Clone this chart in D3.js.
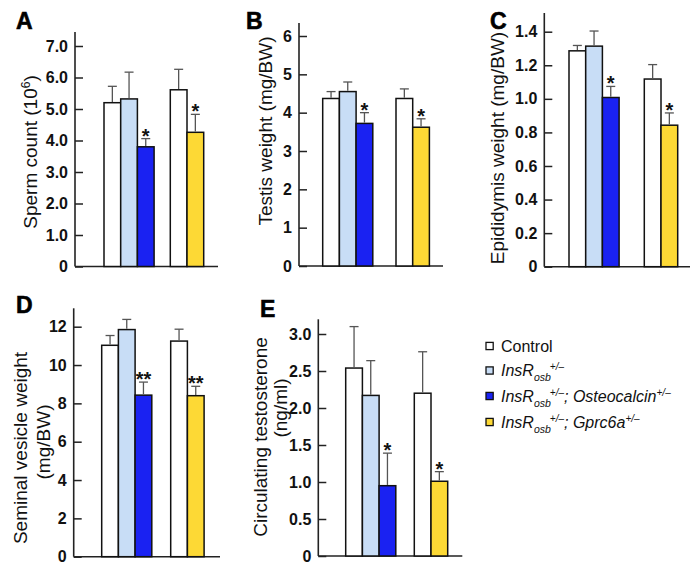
<!DOCTYPE html>
<html>
<head>
<meta charset="utf-8">
<script src="https://cdn.jsdelivr.net/npm/d3@7/dist/d3.min.js"></script>
<style>
  html, body { margin: 0; padding: 0; background: #fff; }
  svg { display: block; font-family: "Liberation Sans", Arial, Helvetica, sans-serif; }
</style>
</head>
<body>
<svg id="chart" width="699" height="565"></svg>
<script>
// ---------- data ----------
const seriesNames = ["Control", "InsRosb+/−", "InsRosb+/−; Osteocalcin+/−", "InsRosb+/−; Gprc6a+/−"];
const seriesColors = ["#ffffff", "#c8ddf6", "#1a22f2", "#fdd935"];
// bars in each panel: series index and group
const barSeries = [0, 1, 2, 0, 3];
const barGroup  = [0, 0, 0, 1, 1];
const barSlot   = [0, 1, 2, 0, 1];

const spermMean   = [5.20, 5.32, 3.80, 5.61, 4.26];
const spermErr    = [0.52, 0.85, 0.26, 0.65, 0.57];
const spermStars  = ["", "", "*", "", "*"];
const spermTicks  = [0, 1, 2, 3, 4, 5, 6, 7];

const testisMean  = [4.37, 4.55, 3.72, 4.37, 3.62];
const testisErr   = [0.18, 0.25, 0.28, 0.25, 0.22];
const testisStars = ["", "", "*", "", "*"];
const testisTicks = [0, 1, 2, 3, 4, 5, 6];

const epiMean     = [1.286, 1.314, 1.008, 1.118, 0.843];
const epiErr      = [0.032, 0.090, 0.066, 0.086, 0.073];
const epiStars    = ["", "", "*", "", "*"];
const epiTicks    = [0, 0.2, 0.4, 0.6, 0.8, 1.0, 1.2, 1.4];

const svMean      = [11.03, 11.85, 8.43, 11.25, 8.40];
const svErr       = [0.51, 0.53, 0.68, 0.62, 0.49];
const svStars     = ["", "", "**", "", "**"];
const svTicks     = [0, 2, 4, 6, 8, 10, 12];

const testoMean   = [2.54, 2.17, 0.95, 2.20, 1.01];
const testoErr    = [0.56, 0.47, 0.44, 0.56, 0.13];
const testoStars  = ["", "", "*", "", "*"];
const testoTicks  = [0, 0.5, 1.0, 1.5, 2.0, 2.5, 3.0];

// ---------- layout ----------
const FONT = "'Liberation Sans', Arial, Helvetica, sans-serif";
const svg = d3.select("#chart");

const fmt1 = d => d === 0 ? "0" : d3.format(".1f")(d);
const fmt0 = d => d3.format("d")(d);

const panels = [
  { letter: "A", lx: 16, ly: 29, mean: spermMean, err: spermErr, stars: spermStars, ticks: spermTicks, fmt: fmt1,
    ax: 75, top: 32, base: 266.5, tickTopY: 46, xEnd: 218, g: [104, 170.3], bw: 16.7,
    title: [{ t: "Sperm count (10", sup: "6", close: ")", x: 37, y: 152 }] },
  { letter: "B", lx: 246, ly: 29, mean: testisMean, err: testisErr, stars: testisStars, ticks: testisTicks, fmt: fmt0,
    ax: 299, top: 23, base: 266, tickTopY: 36, xEnd: 443, g: [322.7, 396], bw: 16.7,
    title: [{ t: "Testis weight (mg/BW)", x: 272, y: 131 }] },
  { letter: "C", lx: 490, ly: 29, mean: epiMean, err: epiErr, stars: epiStars, ticks: epiTicks, fmt: fmt1,
    ax: 544.3, top: 13, base: 266.7, tickTopY: 31.7, xEnd: 690, g: [569, 644.3], bw: 16.7,
    title: [{ t: "Epididymis weight (mg/BW)", x: 504, y: 148 }] },
  { letter: "D", lx: 16, ly: 313, mean: svMean, err: svErr, stars: svStars, ticks: svTicks, fmt: fmt0,
    ax: 73.7, top: 308.3, base: 556.7, tickTopY: 326.7, xEnd: 220, g: [101.7, 170.7], bw: 16.7,
    title: [{ t: "Seminal vesicle weight", x: 27, y: 448 }, { t: "(mg/BW)", x: 50, y: 442 }] },
  { letter: "E", lx: 260, ly: 317, mean: testoMean, err: testoErr, stars: testoStars, ticks: testoTicks, fmt: fmt1,
    ax: 318.3, top: 319.3, base: 556, tickTopY: 334, xEnd: 462.3, g: [345.7, 414.3], bw: 16.7,
    title: [{ t: "Circulating testosterone", x: 267, y: 437 }, { t: "(ng/ml)", x: 287, y: 408 }] }
];

panels.forEach(p => {
  const g = svg.append("g");
  const tmax = p.ticks[p.ticks.length - 1];
  const y = d3.scaleLinear().domain([0, tmax]).range([p.base, p.tickTopY]);
  const groupX = d3.scaleOrdinal().domain([0, 1]).range(p.g);
  const slotX = d3.scaleBand().domain([0, 1, 2]).range([0, 3 * p.bw]).padding(0);

  // panel letter
  g.append("text").attr("x", p.lx).attr("y", p.ly)
    .attr("font-family", FONT).attr("font-weight", "bold").attr("font-size", 23)
    .attr("stroke", "#000").attr("stroke-width", 0.6)
    .attr("fill", "#000").text(p.letter);

  // y axis
  const axis = d3.axisLeft(y).tickValues(p.ticks).tickFormat(p.fmt).tickSize(-8).tickPadding(7);
  const ag = g.append("g").attr("transform", `translate(${p.ax},0)`).call(axis);
  ag.select(".domain").remove();
  ag.selectAll(".tick line").attr("stroke", "#222").attr("stroke-width", 1.5);
  ag.selectAll(".tick text").attr("font-family", FONT).attr("font-weight", "bold")
    .attr("font-size", 16).attr("fill", "#111");
  g.append("line").attr("x1", p.ax).attr("x2", p.ax).attr("y1", p.top).attr("y2", p.base)
    .attr("stroke", "#222").attr("stroke-width", 1.6);
  g.append("line").attr("x1", p.ax).attr("x2", p.xEnd).attr("y1", p.base).attr("y2", p.base)
    .attr("stroke", "#222").attr("stroke-width", 1.6);

  // bars
  const data = p.mean.map((m, i) => ({ m, e: p.err[i], s: p.stars[i], ser: barSeries[i],
    x: groupX(barGroup[i]) + slotX(barSlot[i]) }));
  const bw = slotX.bandwidth();

  g.selectAll("rect.bar").data(data).join("rect").attr("class", "bar")
    .attr("x", d => d.x).attr("width", bw)
    .attr("y", d => y(d.m)).attr("height", d => p.base - y(d.m))
    .attr("fill", d => seriesColors[d.ser]).attr("stroke", "#111").attr("stroke-width", 1.5);

  // error bars
  g.selectAll("line.err").data(data).join("line").attr("class", "err")
    .attr("x1", d => d.x + bw / 2).attr("x2", d => d.x + bw / 2)
    .attr("y1", d => y(d.m) - 0.75).attr("y2", d => y(d.m + d.e))
    .attr("stroke", "#555").attr("stroke-width", 1.3);
  g.selectAll("line.cap").data(data).join("line").attr("class", "cap")
    .attr("x1", d => d.x + bw / 2 - 4.5).attr("x2", d => d.x + bw / 2 + 4.5)
    .attr("y1", d => y(d.m + d.e)).attr("y2", d => y(d.m + d.e))
    .attr("stroke", "#555").attr("stroke-width", 1.3);

  // significance stars
  g.selectAll("text.star").data(data.filter(d => d.s)).join("text").attr("class", "star")
    .attr("x", d => d.x + bw / 2).attr("y", d => y(d.m + d.e) + 4)
    .attr("text-anchor", "middle").attr("font-family", FONT).attr("font-weight", "bold")
    .attr("font-size", 20).attr("fill", "#111").text(d => d.s);

  // y title
  p.title.forEach(tl => {
    const t = g.append("text").attr("transform", `translate(${tl.x},${tl.y}) rotate(-90)`)
      .attr("text-anchor", "middle").attr("font-family", FONT).attr("font-size", 19).attr("fill", "#111");
    t.append("tspan").text(tl.t);
    if (tl.sup) {
      t.append("tspan").attr("font-size", 12).attr("dy", -7).text(tl.sup);
      t.append("tspan").attr("dy", 7).text(tl.close);
    }
  });
});

// ---------- legend ----------
const legendY = [346, 370.5, 396, 422];
const legendParts = [
  [{ t: "Control" }],
  [{ t: "InsR", i: true }, { t: "osb", i: true, sub: true }, { t: "+/–", i: true, sup: true }],
  [{ t: "InsR", i: true }, { t: "osb", i: true, sub: true }, { t: "+/–", i: true, sup: true },
   { t: "; Osteocalcin", i: true }, { t: "+/–", i: true, sup: true }],
  [{ t: "InsR", i: true }, { t: "osb", i: true, sub: true }, { t: "+/–", i: true, sup: true },
   { t: "; Gprc6a", i: true }, { t: "+/–", i: true, sup: true }]
];
const leg = svg.append("g");
seriesNames.forEach((name, k) => {
  const cy = legendY[k];
  leg.append("rect").attr("x", 486).attr("y", cy - 3.6).attr("width", 7.2).attr("height", 7.2)
    .attr("fill", seriesColors[k]).attr("stroke", "#111").attr("stroke-width", 1.3);
  const t = leg.append("text").attr("x", 501).attr("y", cy + 5.5)
    .attr("font-family", FONT).attr("font-size", 16).attr("fill", "#111");
  let shift = 0;
  let prevSub = false;
  legendParts[k].forEach(part => {
    const sp = t.append("tspan").text(part.t);
    if (part.i) sp.attr("font-style", "italic");
    let target = 0;
    if (part.sub) { target = 5; sp.attr("font-size", 10.5); }
    else if (part.sup) { target = -6; sp.attr("font-size", 10); }
    sp.attr("dy", target - shift);
    if (part.sup && prevSub) sp.attr("dx", -1);
    shift = target;
    prevSub = !!part.sub;
  });
});
</script>
</body>
</html>
